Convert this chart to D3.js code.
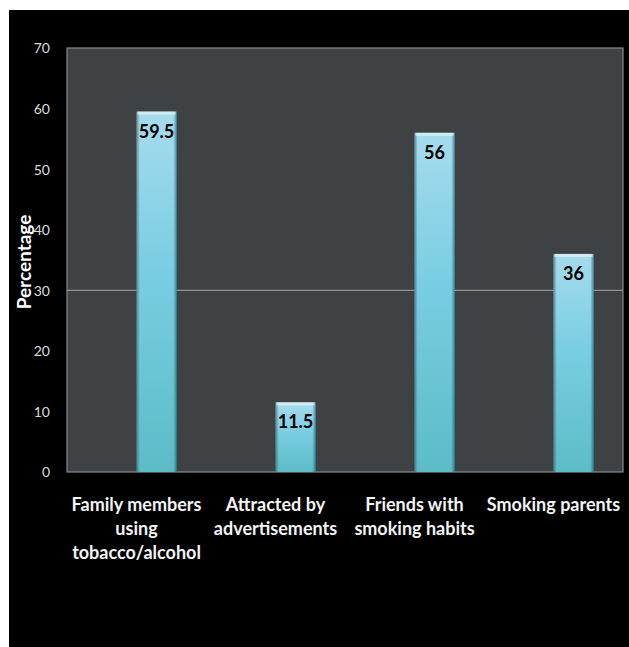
<!DOCTYPE html>
<html>
<head>
<meta charset="utf-8">
<script src="https://cdn.jsdelivr.net/npm/d3@7"></script>
<style>
  html, body { margin: 0; padding: 0; background: #ffffff; }
  svg { display: block; }
</style>
</head>
<body>
<svg id="chart" width="629" height="647"></svg>
<script>
// Reasons reported for starting tobacco / alcohol use
const categories = [
  ["Family members", "using", "tobacco/alcohol"],
  ["Attracted by", "advertisements"],
  ["Friends with", "smoking habits"],
  ["Smoking parents"]
];
const values = [59.5, 11.5, 56, 36];
const valueLabels = ["59.5", "11.5", "56", "36"];
const yTicks = [0, 10, 20, 30, 40, 50, 60, 70];
const gridValues = [30];
const yTitle = "Percentage";

const svg = d3.select("#chart");
const W = 629, H = 647;
const plot = { left: 67, right: 623, top: 48, bottom: 472 };
const font = "Lato, 'Open Sans', sans-serif";

// black backdrop panel
svg.append("rect").attr("x", 9).attr("y", 10).attr("width", W - 9).attr("height", H - 10).attr("fill", "#000");

const keys = categories.map((c, i) => i);
const x = d3.scaleBand().domain(keys).range([plot.left, plot.right]).paddingInner(0).paddingOuter(0);
const y = d3.scaleLinear().domain([0, 70]).range([plot.bottom, plot.top]);

// plot area
svg.append("rect")
  .attr("x", plot.left).attr("y", plot.top)
  .attr("width", plot.right - plot.left).attr("height", plot.bottom - plot.top)
  .attr("fill", "#3e4244").attr("stroke", "#858b8c").attr("stroke-width", 1.2);

// gridline
svg.append("g").selectAll("line").data(gridValues).join("line")
  .attr("x1", plot.left).attr("x2", plot.right)
  .attr("y1", d => y(d)).attr("y2", d => y(d))
  .attr("stroke", "#8d9292").attr("stroke-width", 1.2);

// gradients for the bars
const defs = svg.append("defs");
const vg = defs.append("linearGradient").attr("id", "barV").attr("x1", 0).attr("y1", 0).attr("x2", 0).attr("y2", 1);
vg.append("stop").attr("offset", "0").attr("stop-color", "#a6dced");
vg.append("stop").attr("offset", "0.45").attr("stop-color", "#78cde2");
vg.append("stop").attr("offset", "1").attr("stop-color", "#5cbcc6");
const hg = defs.append("linearGradient").attr("id", "barH").attr("x1", 0).attr("y1", 0).attr("x2", 1).attr("y2", 0);
hg.append("stop").attr("offset", "0").attr("stop-color", "#1d4a55").attr("stop-opacity", 0.55);
hg.append("stop").attr("offset", "0.08").attr("stop-color", "#1d4a55").attr("stop-opacity", 0.0);
hg.append("stop").attr("offset", "0.92").attr("stop-color", "#1d4a55").attr("stop-opacity", 0.0);
hg.append("stop").attr("offset", "1").attr("stop-color", "#1d4a55").attr("stop-opacity", 0.55);

const barW = 40;
const bx = i => x(i) + x.bandwidth() / 2;

const bars = svg.append("g");
bars.selectAll("rect.bar").data(values).join("rect").attr("class", "bar")
  .attr("x", (d, i) => bx(i)).attr("y", d => y(d))
  .attr("width", barW).attr("height", d => y(0) - y(d))
  .attr("fill", "url(#barV)");
bars.selectAll("rect.shade").data(values).join("rect").attr("class", "shade")
  .attr("x", (d, i) => bx(i)).attr("y", d => y(d))
  .attr("width", barW).attr("height", d => y(0) - y(d))
  .attr("fill", "url(#barH)");
// light cap on top of each bar
bars.selectAll("rect.cap").data(values).join("rect").attr("class", "cap")
  .attr("x", (d, i) => bx(i) + 1).attr("y", d => y(d))
  .attr("width", barW - 2).attr("height", 3)
  .attr("fill", "#d6f1f8").attr("opacity", 0.8);

// value labels
svg.append("g").selectAll("text").data(values).join("text")
  .attr("x", (d, i) => bx(i) + barW / 2)
  .attr("y", d => y(d) + 26)
  .attr("text-anchor", "middle")
  .attr("font-family", font).attr("font-size", 18).attr("font-weight", 700)
  .attr("fill", "#000")
  .text((d, i) => valueLabels[i]);

// y axis
const yAxis = d3.axisLeft(y).tickValues(yTicks).tickSize(0).tickPadding(0);
const ya = svg.append("g").attr("transform", `translate(50,0)`).call(yAxis);
ya.select(".domain").remove();
ya.selectAll("text")
  .attr("font-family", font).attr("font-size", 14).attr("fill", "#dcdcdc")
  .attr("dy", "0.35em");

// y axis title
svg.append("text")
  .attr("transform", `translate(31,262) rotate(-90)`)
  .attr("text-anchor", "middle")
  .attr("font-family", font).attr("font-size", 19).attr("font-weight", 700)
  .attr("fill", "#fff")
  .text(yTitle);

// category labels
const cat = svg.append("g").selectAll("text").data(categories).join("text")
  .attr("text-anchor", "middle")
  .attr("font-family", font).attr("font-size", 18).attr("font-weight", 700)
  .attr("fill", "#f4f4f4");
cat.each(function(lines, i) {
  const t = d3.select(this);
  lines.forEach((ln, j) => {
    t.append("tspan").attr("x", x(i) + x.bandwidth() / 2).attr("y", 511 + j * 24).text(ln);
  });
});
</script>
</body>
</html>
